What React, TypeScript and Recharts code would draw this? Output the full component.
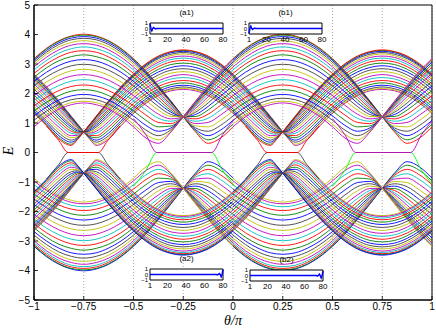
import React from 'react';
import { LineChart, Line, XAxis, YAxis, CartesianGrid, ReferenceArea } from 'recharts';

// MATLAB default line colour order
const COLORS = ['#0000ff', '#008000', '#ff0000', '#00bfbf', '#bf00bf', '#bfbf00', '#404040'];
const X_TICKS = [-1, -0.75, -0.5, -0.25, 0, 0.25, 0.5, 0.75, 1];
const Y_TICKS = [-5, -4, -3, -2, -1, 0, 1, 2, 3, 4, 5];
const INSET_X_TICKS = [1, 20, 40, 60, 80];
const INSET_Y_TICKS = [-1, 0, 1];

// theta/pi sample points over one period (the picture repeats on 0..1)
const THETA_P = [-1, -0.9375, -0.875, -0.8125, -0.75, -0.6875, -0.625, -0.5625, -0.5, -0.4375, -0.375, -0.3125, -0.25, -0.1875, -0.125, -0.0625, 0];
const THETA_Q = [-1, -0.9375, -0.875, -0.8125, -0.78125, -0.75, -0.71875, -0.6875, -0.625, -0.5625, -0.5, -0.4375, -0.375, -0.3125, -0.25, -0.1875, -0.125, -0.0625, 0];

// upper levels with domes at -0.75 / 0.25, crossing at (-0.25, 1.21)
const P_LEVELS = [
  [3.18, 3.53, 3.79, 3.95, 4.01, 3.95, 3.79, 3.53, 3.18, 2.76, 2.27, 1.75, 1.21, 0.69, 0.31, 0.49, 0.87],
  [3.16, 3.51, 3.77, 3.93, 3.98, 3.93, 3.77, 3.51, 3.16, 2.74, 2.25, 1.74, 1.21, 0.72, 0.43, 0.61, 0.96],
  [3.12, 3.46, 3.72, 3.88, 3.93, 3.88, 3.72, 3.46, 3.12, 2.70, 2.22, 1.72, 1.21, 0.77, 0.57, 0.76, 1.09],
  [3.06, 3.40, 3.66, 3.82, 3.87, 3.82, 3.66, 3.40, 3.06, 2.65, 2.18, 1.69, 1.21, 0.83, 0.72, 0.92, 1.24],
  [2.99, 3.33, 3.58, 3.73, 3.79, 3.73, 3.58, 3.33, 2.99, 2.58, 2.12, 1.65, 1.21, 0.90, 0.87, 1.09, 1.41],
  [2.90, 3.23, 3.48, 3.64, 3.69, 3.64, 3.48, 3.23, 2.90, 2.50, 2.06, 1.61, 1.21, 0.98, 1.02, 1.27, 1.58],
  [2.80, 3.12, 3.37, 3.52, 3.58, 3.52, 3.37, 3.12, 2.80, 2.41, 1.98, 1.56, 1.21, 1.06, 1.16, 1.44, 1.76],
  [2.68, 3.00, 3.24, 3.40, 3.45, 3.40, 3.24, 3.00, 2.68, 2.30, 1.89, 1.50, 1.21, 1.14, 1.30, 1.60, 1.93],
  [2.55, 2.87, 3.11, 3.25, 3.31, 3.25, 3.11, 2.87, 2.55, 2.18, 1.79, 1.43, 1.21, 1.22, 1.44, 1.76, 2.10],
  [2.41, 2.72, 2.95, 3.10, 3.15, 3.10, 2.95, 2.72, 2.41, 2.05, 1.68, 1.37, 1.21, 1.29, 1.56, 1.91, 2.26],
  [2.26, 2.56, 2.79, 2.94, 2.99, 2.94, 2.79, 2.56, 2.26, 1.91, 1.56, 1.29, 1.21, 1.37, 1.68, 2.05, 2.41],
  [2.10, 2.39, 2.62, 2.77, 2.82, 2.77, 2.62, 2.39, 2.10, 1.76, 1.44, 1.22, 1.21, 1.43, 1.79, 2.18, 2.55],
  [1.93, 2.22, 2.45, 2.59, 2.64, 2.59, 2.45, 2.22, 1.93, 1.60, 1.30, 1.14, 1.21, 1.50, 1.89, 2.30, 2.68],
  [1.76, 2.05, 2.27, 2.42, 2.47, 2.42, 2.27, 2.05, 1.76, 1.44, 1.16, 1.06, 1.21, 1.56, 1.98, 2.41, 2.80],
  [1.58, 1.87, 2.10, 2.24, 2.29, 2.24, 2.10, 1.87, 1.58, 1.27, 1.02, 0.98, 1.21, 1.61, 2.06, 2.50, 2.90],
  [1.41, 1.70, 1.93, 2.08, 2.13, 2.08, 1.93, 1.70, 1.41, 1.09, 0.87, 0.90, 1.21, 1.65, 2.12, 2.58, 2.99],
  [1.24, 1.54, 1.78, 1.92, 1.97, 1.92, 1.78, 1.54, 1.24, 0.92, 0.72, 0.83, 1.21, 1.69, 2.18, 2.65, 3.06],
  [1.09, 1.40, 1.64, 1.79, 1.84, 1.79, 1.64, 1.40, 1.09, 0.76, 0.57, 0.77, 1.21, 1.72, 2.22, 2.70, 3.12],
  [0.96, 1.28, 1.53, 1.69, 1.74, 1.69, 1.53, 1.28, 0.96, 0.61, 0.43, 0.72, 1.21, 1.74, 2.25, 2.74, 3.16],
  [0.87, 1.21, 1.47, 1.62, 1.68, 1.62, 1.47, 1.21, 0.87, 0.49, 0.31, 0.69, 1.21, 1.75, 2.27, 2.76, 3.18],
];

// upper levels with domes at -0.25 / 0.75, crossing at (-0.75, 0.70)
const Q_LEVELS = [
  [2.66, 2.24, 1.75, 1.23, 0.97, 0.70, 0.44, 0.24, 0.45, 0.91, 1.33, 1.67, 1.93, 2.09, 2.14, 2.09, 1.93, 1.67, 1.33],
  [2.64, 2.22, 1.74, 1.22, 0.96, 0.70, 0.46, 0.28, 0.50, 0.95, 1.36, 1.70, 1.96, 2.12, 2.17, 2.12, 1.96, 1.70, 1.36],
  [2.61, 2.19, 1.72, 1.21, 0.95, 0.70, 0.48, 0.35, 0.57, 1.01, 1.41, 1.75, 2.01, 2.16, 2.22, 2.16, 2.01, 1.75, 1.41],
  [2.58, 2.16, 1.69, 1.18, 0.93, 0.70, 0.51, 0.42, 0.66, 1.08, 1.48, 1.82, 2.07, 2.23, 2.28, 2.23, 2.07, 1.82, 1.48],
  [2.53, 2.11, 1.64, 1.15, 0.92, 0.70, 0.54, 0.50, 0.76, 1.17, 1.56, 1.90, 2.15, 2.30, 2.36, 2.30, 2.15, 1.90, 1.56],
  [2.47, 2.06, 1.60, 1.12, 0.89, 0.70, 0.58, 0.57, 0.86, 1.26, 1.66, 1.99, 2.24, 2.39, 2.44, 2.39, 2.24, 1.99, 1.66],
  [2.40, 1.99, 1.54, 1.08, 0.87, 0.70, 0.62, 0.65, 0.96, 1.36, 1.75, 2.08, 2.33, 2.49, 2.54, 2.49, 2.33, 2.08, 1.75],
  [2.32, 1.92, 1.47, 1.03, 0.84, 0.70, 0.66, 0.72, 1.05, 1.46, 1.85, 2.18, 2.43, 2.58, 2.64, 2.58, 2.43, 2.18, 1.85],
  [2.24, 1.84, 1.40, 0.98, 0.81, 0.70, 0.69, 0.79, 1.15, 1.56, 1.95, 2.28, 2.53, 2.69, 2.74, 2.69, 2.53, 2.28, 1.95],
  [2.15, 1.75, 1.32, 0.92, 0.77, 0.70, 0.73, 0.86, 1.24, 1.66, 2.05, 2.38, 2.63, 2.79, 2.84, 2.79, 2.63, 2.38, 2.05],
  [2.05, 1.66, 1.24, 0.86, 0.73, 0.70, 0.77, 0.92, 1.32, 1.75, 2.15, 2.48, 2.73, 2.88, 2.94, 2.88, 2.73, 2.48, 2.15],
  [1.95, 1.56, 1.15, 0.79, 0.69, 0.70, 0.81, 0.98, 1.40, 1.84, 2.24, 2.57, 2.82, 2.98, 3.03, 2.98, 2.82, 2.57, 2.24],
  [1.85, 1.46, 1.05, 0.72, 0.66, 0.70, 0.84, 1.03, 1.47, 1.92, 2.32, 2.66, 2.91, 3.07, 3.12, 3.07, 2.91, 2.66, 2.32],
  [1.75, 1.36, 0.96, 0.65, 0.62, 0.70, 0.87, 1.08, 1.54, 1.99, 2.40, 2.74, 2.99, 3.15, 3.20, 3.15, 2.99, 2.74, 2.40],
  [1.66, 1.26, 0.86, 0.57, 0.58, 0.70, 0.89, 1.12, 1.60, 2.06, 2.47, 2.81, 3.06, 3.22, 3.27, 3.22, 3.06, 2.81, 2.47],
  [1.56, 1.17, 0.76, 0.50, 0.54, 0.70, 0.92, 1.15, 1.64, 2.11, 2.53, 2.87, 3.12, 3.28, 3.34, 3.28, 3.12, 2.87, 2.53],
  [1.48, 1.08, 0.66, 0.42, 0.51, 0.70, 0.93, 1.18, 1.69, 2.16, 2.58, 2.92, 3.18, 3.33, 3.39, 3.33, 3.18, 2.92, 2.58],
  [1.41, 1.01, 0.57, 0.35, 0.48, 0.70, 0.95, 1.21, 1.72, 2.19, 2.61, 2.96, 3.22, 3.38, 3.43, 3.38, 3.22, 2.96, 2.61],
  [1.36, 0.95, 0.50, 0.28, 0.46, 0.70, 0.96, 1.22, 1.74, 2.22, 2.64, 2.99, 3.25, 3.41, 3.46, 3.41, 3.25, 2.99, 2.64],
  [1.33, 0.91, 0.45, 0.24, 0.44, 0.70, 0.97, 1.23, 1.75, 2.24, 2.66, 3.01, 3.27, 3.42, 3.48, 3.42, 3.27, 3.01, 2.66],
];

// zero-energy edge states
const EDGE_P_X = [-0.5, -0.4375, -0.383, -0.107, -0.0525, 0.01];
const EDGE_P_Y = [1.15, 0.6, 0, 0, 0.6, 1.15];
const EDGE_Q_X = [-0.9375, -0.875, -0.828, -0.677, -0.63, -0.5675];
const EDGE_Q_Y = [0.9, 0.4, 0, 0, 0.4, 0.9];

// inset wavefunctions (nonzero sites only, rest are 0)
const A1 = [0.9, 0, -0.4, 0, 0.18, 0, -0.08];
const B1 = [-0.9, 0, 0.4, 0, -0.18, 0, 0.08];
const A2 = [-0.08, 0, 0.18, 0, -0.4, 0, 0.9];
const B2 = [-0.1, 0, 0.25, 0, -0.45, 0, 0.8];

const fmt = (v: number) => (v < 0 ? '\u2212' + String(-v) : String(v));

type Pt = { x: number; y: number };

function segments(theta: number[], rows: number[][], sign: number) {
  const out: { i: number; pts: Pt[] }[] = [];
  rows.forEach((row, i) => {
    [0, 1].forEach((shift) => out.push({ i, pts: theta.map((t, j) => ({ x: t + shift, y: sign * row[j] })) }));
  });
  return out;
}

function edge(xs: number[], ys: number[], sign: number, shift: number): Pt[] {
  return xs.map((x, i) => ({ x: x + shift, y: sign * ys[i] }));
}

const upperP = segments(THETA_P, P_LEVELS, 1);
const upperQ = segments(THETA_Q, Q_LEVELS, 1);
const lowerP = segments(THETA_P, P_LEVELS, -1);
const lowerQ = segments(THETA_Q, Q_LEVELS, -1);

const FONT = 'Liberation Sans, Arial, sans-serif';

const XTick = (props: any) => {
  const { x, y, payload } = props;
  return (
    <g>
      <line x1={x} x2={x} y1={y - 3} y2={y - 7} stroke="#000" strokeWidth={0.8} />
      <text x={x} y={y} dy="0.71em" textAnchor="middle" fontSize={10} fontFamily={FONT} fill="#000">{fmt(payload.value)}</text>
    </g>
  );
};

const YTick = (props: any) => {
  const { x, y, payload } = props;
  return (
    <g>
      <line x1={x + 4} x2={x + 8} y1={y} y2={y} stroke="#000" strokeWidth={0.8} />
      <text x={x} y={y} dy="0.355em" textAnchor="end" fontSize={10} fontFamily={FONT} fill="#000">{fmt(payload.value)}</text>
    </g>
  );
};

const Inset = ({ left, top, title, values, atEnd }: { left: number; top: number; title: string; values: number[]; atEnd: boolean }) => {
  const data = Array.from({ length: 80 }, (_, i) => {
    const k = atEnd ? i - (80 - values.length) : i;
    return { x: i + 1, y: k >= 0 && k < values.length ? values[k] : 0 };
  });
  return (
    <div style={{ position: 'absolute', left, top, width: 92, height: 42 }}>
      <div style={{ position: 'absolute', left: 14, width: 73, top: 0, textAlign: 'center', fontSize: 8, fontFamily: FONT }}>{title}</div>
      <LineChart width={92} height={42} data={data} margin={{ top: 15, right: 5, left: 2, bottom: 0 }}>
        <ReferenceArea x1={1} x2={80} y1={-1} y2={1} fill="#fff" fillOpacity={1} stroke="#000" strokeWidth={1} />
        <XAxis dataKey="x" type="number" domain={[1, 80]} ticks={INSET_X_TICKS} interval={0} height={16} tickSize={0} tickMargin={2} axisLine={false} tick={{ fontSize: 8, fontFamily: FONT, fill: '#000' }} />
        <YAxis type="number" domain={[-1, 1]} ticks={INSET_Y_TICKS} interval={0} width={12} tickSize={0} tickMargin={2} axisLine={false} tickFormatter={fmt} tick={{ fontSize: 6, fontFamily: FONT, fill: '#000' }} />
        <Line dataKey="y" stroke="#0000ff" strokeWidth={1.5} dot={false} isAnimationActive={false} />
      </LineChart>
    </div>
  );
};

export default function App() {
  let n = 0;
  const line = (pts: Pt[], color: string) => (
    <Line key={n++} data={pts} dataKey="y" type="monotone" stroke={color} strokeWidth={0.9} dot={false} activeDot={false} isAnimationActive={false} />
  );
  return (
    <div style={{ position: 'absolute', left: 0, top: 0, width: 436, height: 333, background: '#fff' }}>
      <LineChart width={436} height={333} margin={{ top: 5, right: 4, left: 4, bottom: 3 }}>
        <CartesianGrid horizontal={false} stroke="#aaa" strokeDasharray="1 2" />
        <XAxis dataKey="x" type="number" domain={[-1, 1]} ticks={X_TICKS} interval={0} height={30} tickSize={0} tickMargin={3} tick={<XTick />} stroke="#000" allowDataOverflow />
        <YAxis type="number" domain={[-5, 5]} ticks={Y_TICKS} interval={0} width={30} tickSize={0} tickMargin={4} tick={<YTick />} stroke="#000" allowDataOverflow />
        {lowerP.map((s) => line(s.pts, COLORS[s.i % 7]))}
        {lowerQ.map((s) => line(s.pts, COLORS[(19 - s.i) % 7]))}
        {upperQ.map((s) => line(s.pts, COLORS[(60 + s.i) % 7]))}
        {upperP.map((s) => line(s.pts, COLORS[(79 - s.i) % 7]))}
        {[0, 1].map((s) => line(edge(EDGE_P_X, EDGE_P_Y, -1, s), '#00ff00'))}
        {[0, 1].map((s) => line(edge(EDGE_P_X, EDGE_P_Y, 1, s), '#bf00bf'))}
        {[0, 1].map((s) => line(edge(EDGE_Q_X, EDGE_Q_Y, -1, s), '#404040'))}
        {[0, 1].map((s) => line(edge(EDGE_Q_X, EDGE_Q_Y, 1, s), '#ff0000'))}
        <ReferenceArea x1={-1} x2={1} y1={-5} y2={5} fill="none" stroke="#000" strokeWidth={1} ifOverflow="visible" />
      </LineChart>
      <div style={{ position: 'absolute', left: 5, top: 143, fontSize: 14, fontStyle: 'italic', fontFamily: 'Liberation Serif, serif', transform: 'rotate(-90deg)' }}>E</div>
      <div style={{ position: 'absolute', left: 0, width: 466, top: 313, textAlign: 'center', fontSize: 14, fontStyle: 'italic', fontFamily: 'Liberation Serif, serif' }}>θ/π</div>
      <Inset left={136} top={8} title="(a1)" values={A1} atEnd={false} />
      <Inset left={235} top={8} title="(b1)" values={B1} atEnd={false} />
      <Inset left={136} top={254} title="(a2)" values={A2} atEnd={true} />
      <Inset left={236} top={255} title="(b2)" values={B2} atEnd={true} />
    </div>
  );
}
